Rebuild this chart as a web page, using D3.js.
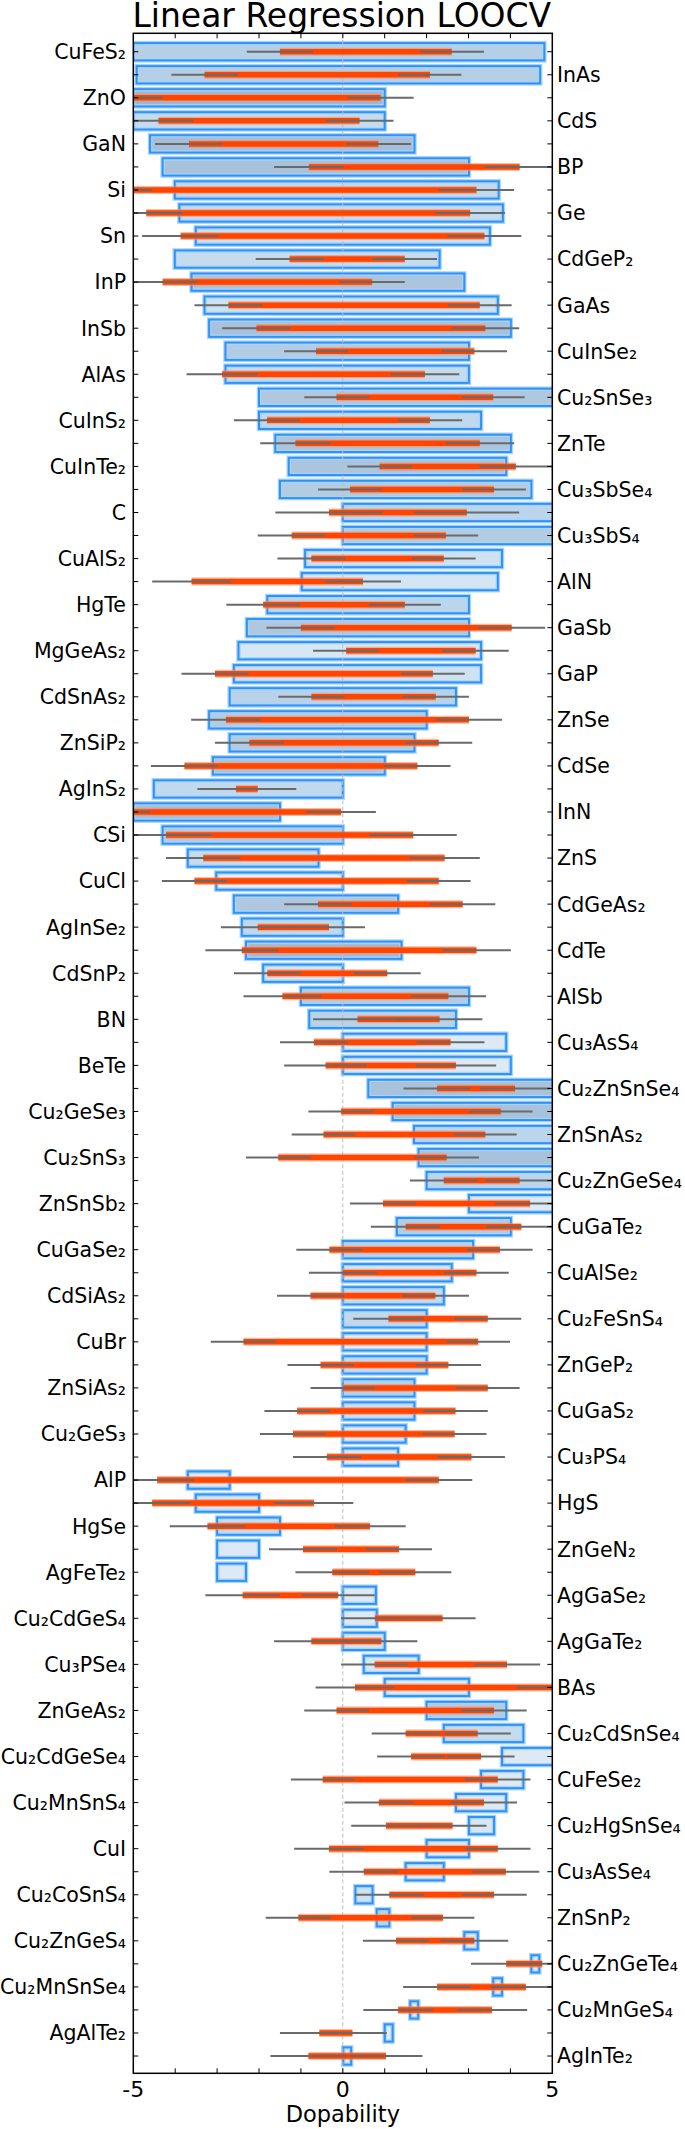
<!DOCTYPE html>
<meta charset="utf-8">
<style>
    body { margin: 0; background: #fff; }
    text { font-family: "DejaVu Sans", sans-serif; fill: #000; }
</style>
<svg width="685" height="2129"></svg>
<script src="https://d3js.org/d3.v7.min.js"></script>
<script>

    // rows, top to bottom (even rows labelled left, odd rows right)
    var names = ["CuFeS2", "InAs", "ZnO", "CdS", "GaN", "BP", "Si", "Ge", "Sn", "CdGeP2",
        "InP", "GaAs", "InSb", "CuInSe2", "AlAs", "Cu2SnSe3", "CuInS2", "ZnTe", "CuInTe2", "Cu3SbSe4",
        "C", "Cu3SbS4", "CuAlS2", "AlN", "HgTe", "GaSb", "MgGeAs2", "GaP", "CdSnAs2", "ZnSe",
        "ZnSiP2", "CdSe", "AgInS2", "InN", "CSi", "ZnS", "CuCl", "CdGeAs2", "AgInSe2", "CdTe",
        "CdSnP2", "AlSb", "BN", "Cu3AsS4", "BeTe", "Cu2ZnSnSe4", "Cu2GeSe3", "ZnSnAs2", "Cu2SnS3", "Cu2ZnGeSe4",
        "ZnSnSb2", "CuGaTe2", "CuGaSe2", "CuAlSe2", "CdSiAs2", "Cu2FeSnS4", "CuBr", "ZnGeP2", "ZnSiAs2", "CuGaS2",
        "Cu2GeS3", "Cu3PS4", "AlP", "HgS", "HgSe", "ZnGeN2", "AgFeTe2", "AgGaSe2", "Cu2CdGeS4", "AgGaTe2",
        "Cu3PSe4", "BAs", "ZnGeAs2", "Cu2CdSnSe4", "Cu2CdGeSe4", "CuFeSe2", "Cu2MnSnS4", "Cu2HgSnSe4", "CuI", "Cu3AsSe4",
        "Cu2CoSnS4", "ZnSnP2", "Cu2ZnGeS4", "Cu2ZnGeTe4", "Cu2MnSnSe4", "Cu2MnGeS4", "AgAlTe2", "AgInTe2"];

    // blue box: range
    var boxLo = [-5.0, -4.92, -5.0, -5.0, -4.60, -4.30, -4.01, -3.90, -3.51, -4.01,
        -3.61, -3.30, -3.19, -2.80, -2.80, -2.0, -2.0, -1.61, -1.29, -1.50,
        0, 0, -0.90, -0.98, -1.80, -2.29, -2.49, -2.60, -2.70, -3.19,
        -2.70, -3.10, -4.51, -5.0, -4.30, -3.70, -3.02, -2.60, -2.41, -2.31,
        -1.90, -1.00, -0.80, 0, 0, 0.61, 1.19, 1.70, 1.81, 2.00,
        3.01, 1.29, 0, 0, 0, 0, 0, 0, 0, 0,
        0, 0, -3.70, -3.51, -3.0, -3.0, -3.0, 0, 0, 0,
        0.50, 1.00, 2.00, 2.41, 3.80, 3.30, 2.70, 3.01, 2.00, 1.50,
        0.30, 0.81, 2.90, 4.50, 3.59, 1.61, 1.00, 0.01];
    var boxHi = [4.81, 4.71, 1.0, 1.0, 1.71, 3.01, 3.72, 3.82, 3.51, 2.31,
        2.90, 3.70, 4.01, 3.01, 3.01, 5.2, 3.30, 4.01, 3.90, 4.50,
        5.2, 5.2, 3.80, 3.70, 3.01, 3.01, 3.30, 3.30, 2.70, 2.00,
        1.71, 1.00, 0, -1.50, 0, -0.58, 0, 1.32, 0, 1.40,
        0, 3.01, 2.70, 3.90, 4.01, 5.2, 5.2, 5.2, 5.2, 5.2,
        5.2, 4.01, 3.11, 2.60, 2.41, 2.00, 2.00, 2.00, 1.71, 1.71,
        1.50, 1.32, -2.70, -2.0, -1.50, -2.0, -2.31, 0.79, 0.81, 1.00,
        1.81, 3.01, 3.90, 4.31, 5.2, 4.31, 3.90, 3.61, 3.01, 2.41,
        0.71, 1.11, 3.22, 4.69, 3.80, 1.80, 1.19, 0.20];
    // box fill strength, 0 = palest
    var shade = [0.6, 0.6, 0.95, 0.4, 0.85, 0.8, 0.45, 0.4, 0.35, 0.4,
        0.75, 0.3, 0.8, 0.65, 0.4, 0.7, 0.45, 0.75, 0.75, 0.65,
        0.5, 0.65, 0.3, 0.25, 0.5, 0.7, 0.2, 0.3, 0.55, 0.65,
        0.65, 0.75, 0.45, 0.85, 0.65, 0.4, 0.05, 0.7, 0.45, 0.9,
        0.25, 0.65, 0.55, 0.15, 0.15, 0.8, 0.8, 0.5, 0.8, 0.5,
        0.15, 0.65, 0.55, 0.2, 0.4, 0.45, 0.1, 0.4, 0.6, 0.35,
        0.15, 0.15, 0.15, 0.25, 0.4, 0.15, 0.15, 0.15, 0.15, 0.25,
        0.2, 0.15, 0.65, 0.4, 0.15, 0.15, 0.15, 0.2, 0.15, 0.15,
        0.3, 0.5, 0.15, 0.1, 0.15, 0.15, 0.1, 0.1];

    // orange bar
    var barLo = [-1.50, -3.30, -5.1, -4.40, -3.67, -0.81, -5.45, -4.69, -3.87, -1.27,
        -4.30, -2.73, -2.06, -0.64, -2.88, -0.15, -1.81, -1.13, 0.88, 0.17,
        -0.33, -1.22, -0.75, -3.61, -1.90, -1.00, 0.08, -3.05, -0.75, -2.79,
        -2.23, -3.78, -2.55, -5.5, -4.22, -3.33, -3.54, -0.59, -2.03, -2.41,
        -1.80, -1.44, 0.35, -0.69, -0.41, 2.25, -0.04, -0.46, -1.54, 2.41,
        0.96, 1.50, -0.32, 0.0, -0.77, 1.09, -2.37, -0.53, 0.0, -1.09,
        -1.19, -0.38, -4.43, -4.55, -3.23, -0.95, -0.25, -2.39, 0.77, -0.75,
        0.76, 0.29, -0.15, 1.50, 1.63, -0.48, 0.86, 1.03, -0.33, 0.50,
        1.11, -1.06, 1.27, 3.90, 2.25, 1.32, -0.56, -0.82];
    var barHi = [2.60, 2.08, 0.90, 0.40, 0.85, 4.22, 3.19, 3.04, 3.38, 1.48,
        0.70, 3.27, 3.40, 3.14, 1.96, 3.59, 2.08, 3.27, 4.13, 3.61,
        2.96, 2.46, 2.41, 0.48, 1.48, 4.03, 3.17, 2.15, 2.22, 3.01,
        2.29, 1.78, -2.03, -0.04, 1.68, 2.43, 2.29, 2.86, -0.33, 3.19,
        1.06, 2.52, 2.31, 2.57, 2.70, 4.11, 3.77, 3.40, 2.48, 4.22,
        4.47, 4.26, 3.75, 3.19, 2.21, 3.46, 3.23, 2.52, 3.46, 2.69,
        2.67, 3.07, 2.29, -0.69, 0.65, 1.34, 1.73, -0.11, 2.38, 0.92,
        3.92, 5.05, 3.61, 3.22, 3.30, 3.70, 3.37, 2.62, 3.70, 3.89,
        3.61, 2.39, 3.14, 4.76, 4.37, 3.56, 0.23, 1.03];

    // grey error bars on the two bar ends: outermost extents
    var whiskLo = [-2.29, -4.09, -5.9, -5.23, -4.48, -1.64, -6.35, -5.56, -4.79, -2.08,
        -5.13, -3.54, -2.88, -1.40, -3.73, -0.92, -2.60, -1.97, 0.11, -0.59,
        -1.61, -2.03, -1.56, -4.55, -2.78, -1.82, -0.71, -3.85, -1.54, -3.62,
        -3.05, -4.58, -3.47, -6.4, -5.3, -4.22, -4.32, -1.40, -2.91, -3.28,
        -2.60, -2.37, -0.71, -1.50, -1.40, 1.45, -0.82, -1.22, -2.31, 1.60,
        0.17, 0.67, -1.11, -0.81, -1.57, 0.25, -3.15, -1.32, -0.77, -1.87,
        -1.98, -1.19, -5.3, -5.45, -4.13, -1.76, -1.13, -3.28, -0.04, -1.64,
        -0.04, -0.65, -0.92, 0.69, 0.82, -1.24, 0.04, 0.20, -1.16, -0.32,
        0.29, -1.84, 0.48, 3.06, 1.44, 0.49, -1.50, -1.73];
    var whiskHi = [3.37, 2.83, 1.69, 1.21, 1.63, 5.05, 4.09, 3.87, 4.26, 2.25,
        1.48, 4.03, 4.21, 3.92, 2.78, 4.34, 2.85, 4.09, 5.0, 4.37,
        4.21, 3.23, 3.17, 1.39, 2.34, 4.83, 3.96, 2.91, 3.01, 3.80,
        3.09, 2.57, -1.11, 0.79, 2.72, 3.27, 3.05, 3.64, 0.53, 4.01,
        1.86, 3.42, 3.33, 3.38, 3.66, 4.95, 4.53, 4.15, 3.25, 5.05,
        5.3, 5.1, 4.53, 3.96, 3.01, 4.26, 3.99, 3.30, 4.22, 3.46,
        3.43, 3.87, 3.09, 0.25, 1.50, 2.13, 2.59, 0.76, 3.17, 1.78,
        4.71, 5.95, 4.39, 4.01, 4.10, 4.48, 4.16, 3.43, 4.48, 4.69,
        4.39, 3.14, 3.95, 5.6, 5.2, 4.40, 1.05, 1.90];

    var xTicks = [-5, 0, 5];

    var svg = d3.select("svg");
    var plotL = 133.3, plotR = 552.3, plotT = 33.3, plotB = 2073.3;

    var x = d3.scaleLinear().domain([-5, 5]).range([plotL, plotR]);
    var y = d3.scaleLinear().domain([-0.8, 87.75]).range([plotT, plotB]);
    var rowH = y(1) - y(0);
    var color = d3.scaleLinear().domain([0, 0.5, 1])
        .range(["#ecf3fa", "#bbd6ec", "#9db4cf"]);

    var subs = {"2": "\u2082", "3": "\u2083", "4": "\u2084"};
    function chem(s) {
        return s.replace(/\d/g, function (d) { return subs[d]; });
    }

    var rows = names.map(function (n, i) {
        return {name: n, i: i, b0: boxLo[i], b1: boxHi[i], s: shade[i],
            c: barLo[i], d: barHi[i], eL: barLo[i] - whiskLo[i], eR: whiskHi[i] - barHi[i]};
    });

    svg.append("text")
        .attr("x", (plotL + plotR) / 2 - 1)
        .attr("y", 27)
        .attr("text-anchor", "middle")
        .style("font-size", "33px")
        .text("Linear Regression LOOCV");

    svg.append("clipPath").attr("id", "clip")
        .append("rect")
        .attr("x", plotL).attr("y", plotT)
        .attr("width", plotR - plotL).attr("height", plotB - plotT);

    var plot = svg.append("g").attr("clip-path", "url(#clip)");

    // boxes
    var boxH = rowH * 0.75;
    plot.append("g").selectAll("rect")
        .data(rows)
        .enter().append("rect")
        .attr("x", function (d) { return x(d.b0); })
        .attr("y", function (d) { return y(d.i) - boxH / 2; })
        .attr("width", function (d) { return x(d.b1) - x(d.b0); })
        .attr("height", boxH)
        .attr("fill", function (d) { return color(d.s); })
        .attr("stroke", "#a9d3ff")
        .attr("stroke-width", 4.5);
    plot.append("g").selectAll("rect")
        .data(rows)
        .enter().append("rect")
        .attr("x", function (d) { return x(d.b0); })
        .attr("y", function (d) { return y(d.i) - boxH / 2; })
        .attr("width", function (d) { return x(d.b1) - x(d.b0); })
        .attr("height", boxH)
        .attr("fill", "none")
        .attr("stroke", "#2e93f5")
        .attr("stroke-width", 2);

    // zero line
    plot.append("line")
        .attr("x1", x(0)).attr("x2", x(0))
        .attr("y1", plotT).attr("y2", plotB)
        .attr("stroke", "#bdbdbd")
        .attr("stroke-width", 1)
        .attr("stroke-dasharray", "4,2.5");

    // orange bars
    plot.append("g").selectAll("line")
        .data(rows)
        .enter().append("line")
        .attr("x1", function (d) { return x(d.c); })
        .attr("x2", function (d) { return x(d.d); })
        .attr("y1", function (d) { return y(d.i); })
        .attr("y2", function (d) { return y(d.i); })
        .attr("stroke", "#ff8a5c")
        .attr("stroke-opacity", 0.6)
        .attr("stroke-width", 8);
    plot.append("g").selectAll("line")
        .data(rows)
        .enter().append("line")
        .attr("x1", function (d) { return x(d.c); })
        .attr("x2", function (d) { return x(d.d); })
        .attr("y1", function (d) { return y(d.i); })
        .attr("y2", function (d) { return y(d.i); })
        .attr("stroke", "#ff4500")
        .attr("stroke-width", 5.5);

    // grey error bars at each end of the orange bar
    var errs = [];
    rows.forEach(function (d) {
        errs.push({i: d.i, a: d.c - d.eL, b: d.c + d.eL});
        errs.push({i: d.i, a: d.d - d.eR, b: d.d + d.eR});
    });
    plot.append("g").selectAll("line")
        .data(errs)
        .enter().append("line")
        .attr("x1", function (d) { return x(d.a); })
        .attr("x2", function (d) { return x(d.b); })
        .attr("y1", function (d) { return y(d.i); })
        .attr("y2", function (d) { return y(d.i); })
        .attr("stroke", "#6a6a6a")
        .attr("stroke-width", 2);

    // frame
    svg.append("rect")
        .attr("x", plotL).attr("y", plotT)
        .attr("width", plotR - plotL).attr("height", plotB - plotT)
        .attr("fill", "none")
        .attr("stroke", "#000")
        .attr("stroke-width", 1.5);

    // x ticks (inward, top and bottom)
    var tickVals = d3.range(-4, 5);
    svg.append("g").selectAll("line")
        .data(tickVals)
        .enter().append("line")
        .attr("x1", function (d) { return x(d); })
        .attr("x2", function (d) { return x(d); })
        .attr("y1", plotB).attr("y2", plotB - 5)
        .attr("stroke", "#000");
    svg.append("g").selectAll("line")
        .data(tickVals)
        .enter().append("line")
        .attr("x1", function (d) { return x(d); })
        .attr("x2", function (d) { return x(d); })
        .attr("y1", plotT).attr("y2", plotT + 5)
        .attr("stroke", "#000");

    svg.append("g").selectAll("text")
        .data(xTicks)
        .enter().append("text")
        .attr("x", function (d) { return x(d); })
        .attr("y", plotB + 24)
        .attr("text-anchor", "middle")
        .style("font-size", "22px")
        .text(function (d) { return d; });

    svg.append("text")
        .attr("x", (plotL + plotR) / 2)
        .attr("y", 2122)
        .attr("text-anchor", "middle")
        .style("font-size", "22.5px")
        .text("Dopability");

    // y ticks on both sides, one per row
    svg.append("g").selectAll("line")
        .data(rows)
        .enter().append("line")
        .attr("x1", plotL).attr("x2", plotL + 5)
        .attr("y1", function (d) { return y(d.i); })
        .attr("y2", function (d) { return y(d.i); })
        .attr("stroke", "#000");
    svg.append("g").selectAll("line")
        .data(rows)
        .enter().append("line")
        .attr("x1", plotR - 5).attr("x2", plotR)
        .attr("y1", function (d) { return y(d.i); })
        .attr("y2", function (d) { return y(d.i); })
        .attr("stroke", "#000");

    // labels: even rows left, odd rows right
    svg.append("g").selectAll("text")
        .data(rows.filter(function (d) { return d.i % 2 === 0; }))
        .enter().append("text")
        .attr("x", 126)
        .attr("y", function (d) { return y(d.i); })
        .attr("dy", "0.36em")
        .attr("text-anchor", "end")
        .style("font-size", "20.5px")
        .text(function (d) { return chem(d.name); });
    svg.append("g").selectAll("text")
        .data(rows.filter(function (d) { return d.i % 2 === 1; }))
        .enter().append("text")
        .attr("x", 557)
        .attr("y", function (d) { return y(d.i); })
        .attr("dy", "0.36em")
        .attr("text-anchor", "start")
        .style("font-size", "20.5px")
        .text(function (d) { return chem(d.name); });

</script>
